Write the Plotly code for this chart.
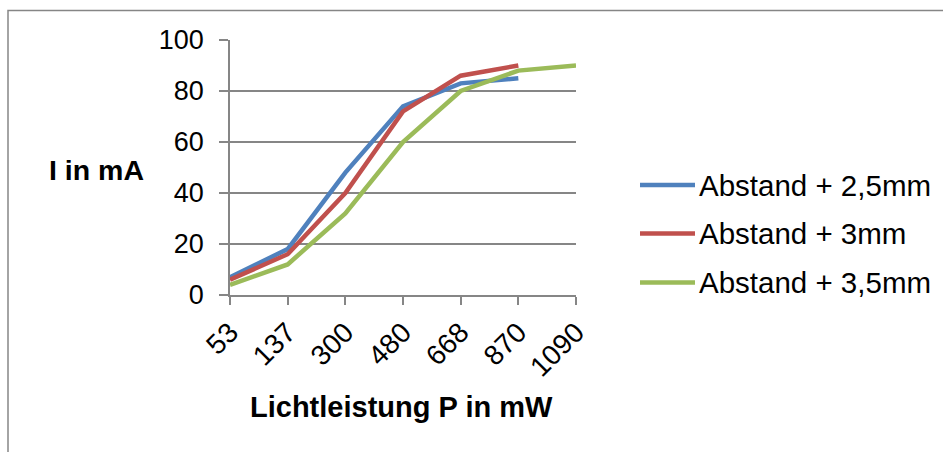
import plotly.graph_objects as go

# Measured light power (mW) used as category labels on the x axis
leistung = ["53", "137", "300", "480", "668", "870", "1090"]

# Current in mA for the three distances
strom_25 = [7, 18, 48, 74, 83, 85]
strom_30 = [6, 16, 40, 72, 86, 90]
strom_35 = [4, 12, 32, 60, 80, 88, 90]

serien = [
    ("Abstand + 2,5mm", strom_25, "#4F81BD"),
    ("Abstand + 3mm", strom_30, "#C0504D"),
    ("Abstand + 3,5mm", strom_35, "#9BBB59"),
]

y_ticks = [0, 20, 40, 60, 80, 100]

FONT = "Liberation Sans, Arial, sans-serif"
GRID = "#868686"

W, H = 943, 452
L, R, T, B = 230, 367, 40, 157  # plot area spans x 230..576, y 40..295
PW, PH = W - L - R, H - T - B


def px(x):
    return (x - L) / PW


def py(y):
    return (H - B - y) / PH


fig = go.Figure()
for name, werte, farbe in serien:
    fig.add_trace(go.Scatter(
        x=leistung[:len(werte)], y=werte, mode="lines", name=name,
        line=dict(color=farbe, width=4.5), showlegend=False,
    ))

shapes = [
    # outer chart frame (left and top edges visible)
    dict(type="rect", xref="paper", yref="paper",
         x0=px(8), x1=px(960), y0=py(470), y1=py(10.5),
         line=dict(color="#868686", width=1.5), layer="below"),
]
annotations = [
    dict(text="<b>I in mA</b>", xref="paper", yref="paper",
         x=px(47), y=py(170), xanchor="left", yanchor="middle",
         showarrow=False, font=dict(family=FONT, size=28.5, color="black")),
    dict(text="<b>Lichtleistung P in mW</b>", xref="paper", yref="paper",
         x=px(401), y=py(407), xanchor="center", yanchor="middle",
         showarrow=False, font=dict(family=FONT, size=29, color="black")),
]

# legend drawn beside the plot
legend_y = [185, 233.5, 282.5]
for (name, _, farbe), ly in zip(serien, legend_y):
    shapes.append(dict(type="line", xref="paper", yref="paper",
                       x0=px(640), x1=px(695), y0=py(ly), y1=py(ly),
                       line=dict(color=farbe, width=4.5)))
    annotations.append(dict(text=name, xref="paper", yref="paper",
                            x=px(697), y=py(ly), xanchor="left", yanchor="middle",
                            showarrow=False,
                            font=dict(family=FONT, size=29.5, color="black")))

fig.update_layout(
    width=W, height=H,
    margin=dict(l=L, r=R, t=T, b=B),
    paper_bgcolor="white", plot_bgcolor="white",
    font=dict(family=FONT, size=27, color="black"),
    shapes=shapes, annotations=annotations,
    xaxis=dict(
        type="category", range=[0, 6], tickangle=-45,
        showgrid=False, zeroline=False,
        showline=True, linecolor=GRID, linewidth=1.5,
        ticks="outside", ticklen=8, tickcolor=GRID, tickwidth=1.5,
        tickfont=dict(family=FONT, size=28),
    ),
    yaxis=dict(
        range=[0, 100], tickvals=y_ticks,
        showgrid=True, gridcolor=GRID, gridwidth=1.5, zeroline=False,
        showline=True, linecolor=GRID, linewidth=1.5,
        ticks="outside", ticklen=9, tickcolor=GRID, tickwidth=1.5,
        tickfont=dict(family=FONT, size=27), ticklabelstandoff=10,
    ),
)

fig.write_html("out.html")
